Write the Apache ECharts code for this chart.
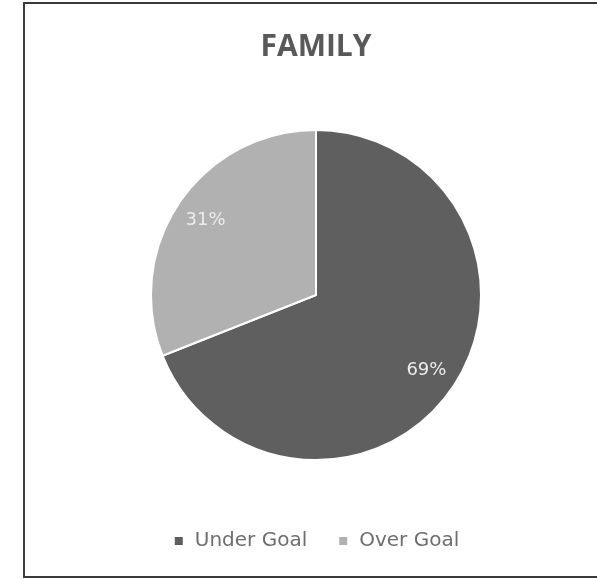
<!DOCTYPE html>
<html>
<head>
<meta charset="utf-8">
<script src="https://cdn.jsdelivr.net/npm/echarts@6/dist/echarts.min.js"></script>
<style>
  html, body { margin: 0; padding: 0; background: #ffffff; overflow: hidden; width: 597px; height: 579px; }
  #chart { position: absolute; left: 23px; top: 2px; width: 586px; height: 576px; box-sizing: border-box; border: 2px solid #3a3a3a; }
</style>
</head>
<body>
<div id="chart"></div>
<script>
const titleText = 'FAMILY';
const categories = ['Under Goal', 'Over Goal'];
const values = [69, 31];
const colors = ['#5f5f5f', '#b1b1b1'];

const pieData = categories.map((c, i) => ({ name: c, value: values[i], itemStyle: { color: colors[i] } }));
const labelData = categories.map((c, i) => ({ name: c, value: values[i] }));

const chart = echarts.init(document.getElementById('chart'), null, { renderer: 'canvas' });
chart.setOption({
  backgroundColor: '#ffffff',
  animation: false,
  title: {
    text: titleText,
    left: 'center',
    top: 23,
    textStyle: { fontFamily: 'Open Sans', fontWeight: 'bold', fontSize: 30, color: '#595959' }
  },
  legend: {
    data: categories,
    top: 522,
    left: 'center',
    icon: 'rect',
    itemWidth: 10,
    itemHeight: 10,
    itemGap: 30,
    textStyle: { fontFamily: 'DejaVu Sans', fontSize: 20, color: '#6e6e6e', padding: [0, 0, 0, 6] }
  },
  series: [
    {
      type: 'pie',
      center: ['50%', 291],
      radius: [0, 165],
      startAngle: 90,
      clockwise: true,
      data: pieData,
      label: { show: false },
      labelLine: { show: false },
      itemStyle: { borderColor: '#ffffff', borderWidth: 2 },
      emphasis: { disabled: true }
    },
    {
      type: 'pie',
      center: ['50%', 291],
      radius: [96, 165],
      startAngle: 90,
      clockwise: true,
      silent: true,
      legendHoverLink: false,
      data: labelData,
      itemStyle: { color: 'rgba(0,0,0,0)', borderWidth: 0 },
      label: {
        show: true,
        position: 'inside',
        formatter: '{d}%',
        fontFamily: 'DejaVu Sans',
        fontSize: 18,
        color: '#ececec'
      },
      labelLine: { show: false },
      emphasis: { disabled: true }
    }
  ]
});
</script>
</body>
</html>
